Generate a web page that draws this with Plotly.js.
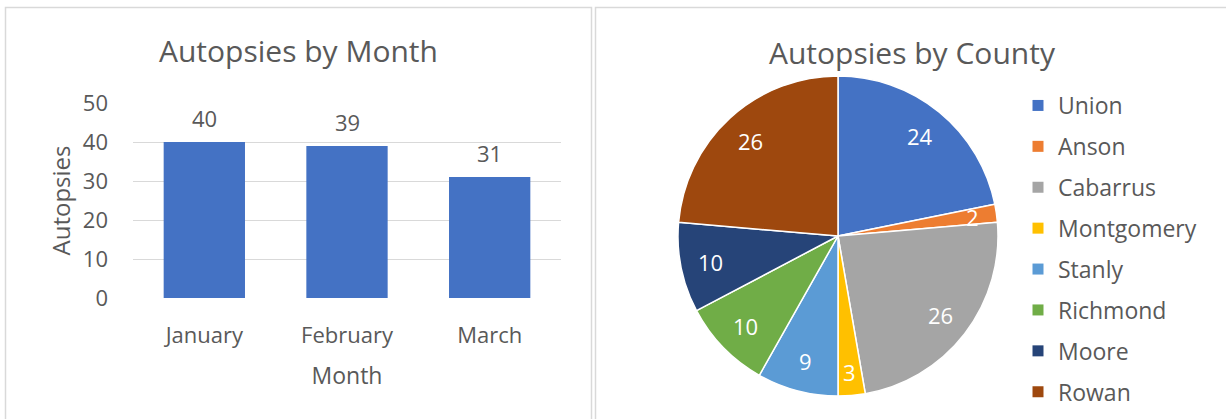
<!DOCTYPE html>
<html>
<head>
<meta charset="utf-8">
<script src="https://cdn.plot.ly/plotly-3.0.1.min.js"></script>
<style>html,body{margin:0;padding:0;background:#fff;}#chart{width:1226px;height:419px;}</style>
</head>
<body>
<div id="chart"></div>
<script>
const months = ["January", "February", "March"];
const monthCounts = [40, 39, 31];
const counties = ["Union", "Anson", "Cabarrus", "Montgomery", "Stanly", "Richmond", "Moore", "Rowan"];
const countyCounts = [24, 2, 26, 3, 9, 10, 10, 26];
const countyColors = ["#4472C4", "#ED7D31", "#A5A5A5", "#FFC000", "#5B9BD5", "#70AD47", "#264478", "#9E480E"];
const barColor = "#4472C4";
const yTicks = [0, 10, 20, 30, 40, 50];

const W = 1226, H = 419;
const textColor = "#595959";
const fontFam = "'Open Sans', 'Noto Sans', sans-serif";

// pie placement (pixels)
const pieCx = 838, pieCy = 236, pieR = 160;

const barTrace = {
  type: "bar",
  x: months,
  y: monthCounts,
  marker: {color: barColor},
  xaxis: "x", yaxis: "y",
  hoverinfo: "x+y",
  showlegend: false
};

const pieTrace = {
  type: "pie",
  labels: counties,
  values: countyCounts,
  marker: {colors: countyColors, line: {color: "#ffffff", width: 1.5}},
  sort: false,
  direction: "clockwise",
  rotation: 0,
  textinfo: "none",
  domain: {x: [(pieCx - pieR)/W, (pieCx + pieR)/W], y: [1 - (pieCy + pieR)/H, 1 - (pieCy - pieR)/H]},
  showlegend: false
};

// legend entries (one per county, so spacing can be controlled)
const legendTraces = counties.map((c, i) => ({
  type: "scatter", mode: "markers",
  x: [null], y: [null], xaxis: "x", yaxis: "y",
  name: c, legendgroup: c,
  marker: {symbol: "square", size: 11, color: countyColors[i]},
  showlegend: true
}));

// bar value labels
const barLabels = months.map((m, i) => ({
  x: m, y: monthCounts[i], xref: "x", yref: "y",
  text: String(monthCounts[i]), showarrow: false,
  yanchor: "bottom", yshift: 7,
  font: {size: 22, color: textColor, family: fontFam}
}));

// pie value labels, placed from the cumulative values
const total = countyCounts.reduce((a, b) => a + b, 0);
let cum = 0;
const pieLabels = countyCounts.map((v, i) => {
  const mid = (cum + v / 2) / total * 2 * Math.PI;
  cum += v;
  const rr = pieR * (v / total < 0.05 ? 0.85 : 0.81);
  const px = pieCx + rr * Math.sin(mid);
  const py = pieCy - rr * Math.cos(mid);
  return {
    x: px / W, y: 1 - py / H, xref: "paper", yref: "paper",
    text: String(v), showarrow: false, xanchor: "center", yanchor: "middle",
    font: {size: 22, color: "#ffffff", family: fontFam}
  };
});

const layout = {
  width: W, height: H,
  margin: {l: 0, r: 0, t: 0, b: 0},
  paper_bgcolor: "#ffffff",
  plot_bgcolor: "#ffffff",
  font: {family: fontFam, color: textColor, size: 22},
  bargap: 0.43,
  xaxis: {
    domain: [133/W, 561/W],
    anchor: "y",
    showline: false, zeroline: false, showgrid: false,
    ticks: "",
    ticklabelstandoff: 22,
    tickfont: {size: 22, color: textColor},
    title: {text: "Month", font: {size: 23, color: textColor}, standoff: 19}
  },
  yaxis: {
    domain: [1 - 298/H, 1 - 103/H],
    anchor: "x",
    range: [0, 50],
    tickvals: yTicks,
    showline: false, zeroline: false,
    gridcolor: "#d9d9d9", gridwidth: 1,
    ticks: "",
    ticklabelstandoff: 24,
    tickfont: {size: 22, color: textColor},
    title: {text: "Autopsies", font: {size: 24, color: textColor}, standoff: 5}
  },
  legend: {
    x: 1018/W, xanchor: "left",
    y: 1 - 84/H, yanchor: "top",
    font: {size: 23, color: textColor},
    tracegroupgap: 8,
    traceorder: "grouped",
    itemwidth: 30,
    maxheight: 1000
  },
  annotations: barLabels.concat(pieLabels).concat([
    {text: "Autopsies by Month", xref: "paper", yref: "paper", x: 298/W, y: 1 - 50/H,
     xanchor: "center", yanchor: "middle", showarrow: false, font: {size: 30, color: textColor}},
    {text: "Autopsies by County", xref: "paper", yref: "paper", x: 912/W, y: 1 - 52/H,
     xanchor: "center", yanchor: "middle", showarrow: false, font: {size: 30, color: textColor}}
  ]),
  shapes: [
    {type: "rect", xref: "paper", yref: "paper", x0: 5.5/W, x1: 591.5/W, y0: -0.05, y1: 1 - 7.5/H,
     line: {color: "#d9d9d9", width: 1.5}},
    {type: "rect", xref: "paper", yref: "paper", x0: 595.5/W, x1: 1.05, y0: -0.05, y1: 1 - 7.5/H,
     line: {color: "#d9d9d9", width: 1.5}}
  ]
};

Plotly.newPlot("chart", [barTrace, pieTrace].concat(legendTraces), layout, {displayModeBar: false, staticPlot: true});
</script>
</body>
</html>
